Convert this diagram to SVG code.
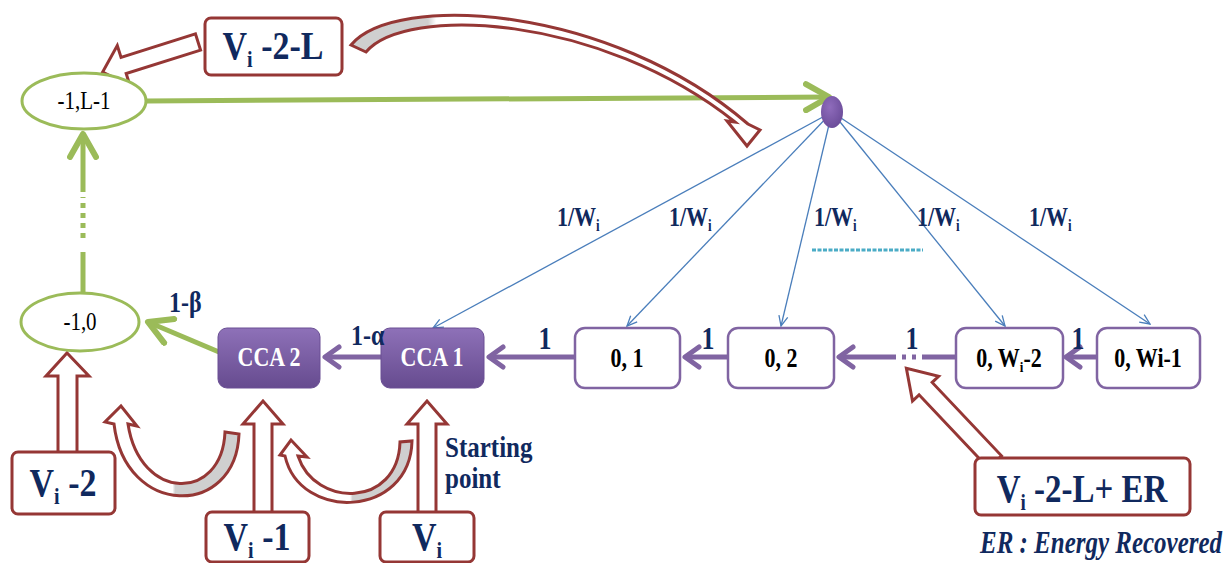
<svg xmlns="http://www.w3.org/2000/svg" width="1232" height="563" viewBox="0 0 1232 563">
<defs>
<style>
.t{font-family:"Liberation Serif","Times New Roman",serif;font-weight:bold}
.r{font-family:"Liberation Serif","Times New Roman",serif}
.nv{fill:#10295e}
.bk{fill:#000}
.wt{fill:#fff}
.rb{fill:#fff;stroke:#953735;stroke-width:3}
.ba{stroke:#953735;stroke-width:3;stroke-linejoin:miter}
.pb{fill:#fff;stroke:#8064a2;stroke-width:2.5}
.cca{fill:url(#ccaG);stroke:#6a4f94;stroke-width:1}
.el{fill:#fff;stroke:#9bbb59;stroke-width:3}
.bl{stroke:#4a7ebb;stroke-width:1.3;fill:none;marker-end:url(#bA)}
.pl{stroke:#8064a2;stroke-width:5;fill:none}
.gl{stroke:#9bbb59;stroke-width:5;fill:none}
</style>
<linearGradient id="ccaG" x1="0" y1="0" x2="0" y2="1"><stop offset="0" stop-color="#8e71b8"/><stop offset="1" stop-color="#664b8f"/></linearGradient>
<radialGradient id="dotG" cx="0.4" cy="0.35" r="0.7"><stop offset="0" stop-color="#8f6cbc"/><stop offset="1" stop-color="#6a4b98"/></radialGradient>
<linearGradient id="gTop" gradientUnits="userSpaceOnUse" x1="350" y1="0" x2="760" y2="0"><stop offset="0" stop-color="#cfcfcf"/><stop offset="0.19" stop-color="#cfcfcf"/><stop offset="0.21" stop-color="#fff"/></linearGradient>
<linearGradient id="gU1" gradientUnits="userSpaceOnUse" x1="105" y1="0" x2="240" y2="0"><stop offset="0" stop-color="#fff"/><stop offset="0.5" stop-color="#fff"/><stop offset="0.52" stop-color="#cfcfcf"/><stop offset="1" stop-color="#cfcfcf"/></linearGradient>
<linearGradient id="gU2" gradientUnits="userSpaceOnUse" x1="280" y1="0" x2="412" y2="0"><stop offset="0" stop-color="#fff"/><stop offset="0.53" stop-color="#fff"/><stop offset="0.55" stop-color="#cfcfcf"/><stop offset="1" stop-color="#cfcfcf"/></linearGradient>
<marker id="bA" viewBox="0 0 12 12" refX="11" refY="6" markerWidth="12" markerHeight="12" markerUnits="userSpaceOnUse" orient="auto"><path d="M1,1.5 L11,6 L1,10.5" fill="none" stroke="#4a7ebb" stroke-width="1.3"/></marker>
<marker id="pA" viewBox="0 0 20 26" refX="17" refY="13" markerWidth="20" markerHeight="26" markerUnits="userSpaceOnUse" orient="auto"><path d="M3,3 L17,13 L3,23" fill="none" stroke="#8064a2" stroke-width="5" stroke-linecap="round" stroke-linejoin="round"/></marker>
<marker id="gA" viewBox="0 0 30 32" refX="26" refY="16" markerWidth="30" markerHeight="32" markerUnits="userSpaceOnUse" orient="auto"><path d="M3,3 L26,16 L3,29" fill="none" stroke="#9bbb59" stroke-width="6" stroke-linecap="round" stroke-linejoin="round"/></marker>
</defs>
<rect width="1232" height="563" fill="#fff"/>

<g id="connectors">
  <line class="bl" x1="832" y1="112" x2="433" y2="328"/>
  <line class="bl" x1="832" y1="112" x2="627" y2="326"/>
  <line class="bl" x1="832" y1="112" x2="781" y2="326"/>
  <line class="bl" x1="832" y1="112" x2="1005" y2="326"/>
  <line class="bl" x1="832" y1="112" x2="1150" y2="324"/>
  <line x1="812" y1="250" x2="923" y2="250" stroke="#4bacc6" stroke-width="3" stroke-dasharray="4,1.5"/>
  <line class="gl" x1="147" y1="101" x2="829" y2="97" marker-end="url(#gA)"/>
  <line class="gl" x1="83" y1="293" x2="83" y2="252"/>
  <line class="gl" x1="83" y1="238" x2="83" y2="197" stroke-dasharray="5,5"/>
  <line class="gl" x1="83" y1="192" x2="83" y2="134" marker-end="url(#gA)"/>
  <line class="gl" x1="219" y1="352" x2="148" y2="322" marker-end="url(#gA)"/>
  <line class="pl" x1="381" y1="357" x2="325" y2="357" marker-end="url(#pA)"/>
  <line class="pl" x1="575" y1="357" x2="489" y2="357" marker-end="url(#pA)"/>
  <line class="pl" x1="728" y1="357" x2="685" y2="357" marker-end="url(#pA)"/>
  <line class="pl" x1="955" y1="357" x2="922" y2="357"/>
  <line class="pl" x1="916" y1="357" x2="912" y2="357"/>
  <line class="pl" x1="906" y1="357" x2="902" y2="357"/>
  <line class="pl" x1="896" y1="357" x2="839" y2="357" marker-end="url(#pA)"/>
  <line class="pl" x1="1097" y1="357" x2="1066" y2="357" marker-end="url(#pA)"/>
  <polygon class="ba" fill="#fff" transform="translate(198,42) rotate(162.5)" points="0,-8.5 78,-8.5 78,-21 100,0 78,21 78,8.5 0,8.5"/>
  <path class="ba" fill="url(#gTop)" d="M351,45 C395,-8 610,5 748,124 L760,130 L747,146 L727,121 L735,122 C600,14 405,5 366,52 Z"/>
  <polygon class="ba" fill="#fff" points="58,454 58,376 46,376 67,353 89,376 77,376 77,454"/>
  <polygon class="ba" fill="#fff" points="254,514 254,424 243,424 263,401 283,424 272,424 272,514"/>
  <polygon class="ba" fill="#fff" points="418,514 418,424 407,424 427,401 447,424 436,424 436,514"/>
  <path class="ba" fill="url(#gU1)" d="M239,434 C236,518 125,518 114,424 L105,422 L121,406 L137,426 L128,424 C140,502 222,502 225,432 Z"/>
  <path class="ba" fill="url(#gU2)" d="M412,441 C410,518 300,522 285,456 L280,455 L291,440 L307,457 L298,456 C315,508 398,508 400,442 Z"/>
  <polygon class="ba" fill="#fff" transform="translate(995,462) rotate(-133.4)" points="0,-9 101,-9 101,-18 129,0 101,18 101,9 0,9"/>
</g>

<g id="n-dot"><ellipse cx="832" cy="112" rx="11" ry="16" fill="url(#dotG)"/></g>

<g id="n-L1">
  <ellipse class="el" cx="84" cy="101" rx="62" ry="28"/>
  <text class="r bk" font-size="21" text-anchor="middle" transform="translate(84,109) scale(1,1.15)">-1,L-1</text>
</g>
<g id="n-10">
  <ellipse class="el" cx="80" cy="322" rx="59" ry="29"/>
  <text class="r bk" font-size="21" text-anchor="middle" transform="translate(80,330) scale(1,1.15)">-1,0</text>
</g>

<g id="n-cca2">
  <rect class="cca" x="218" y="328" width="102" height="60" rx="9"/>
  <text class="t wt" font-size="22" text-anchor="middle" transform="translate(269,366) scale(1,1.2)">CCA 2</text>
</g>
<g id="n-cca1">
  <rect class="cca" x="381" y="328" width="103" height="60" rx="9"/>
  <text class="t wt" font-size="22" text-anchor="middle" transform="translate(432,366) scale(1,1.2)">CCA 1</text>
</g>
<g id="n-01">
  <rect class="pb" x="575" y="328" width="105" height="60" rx="10"/>
  <text class="t bk" font-size="22" text-anchor="middle" transform="translate(627,367) scale(1,1.2)">0, 1</text>
</g>
<g id="n-02">
  <rect class="pb" x="728" y="328" width="106" height="60" rx="10"/>
  <text class="t bk" font-size="22" text-anchor="middle" transform="translate(781,367) scale(1,1.2)">0, 2</text>
</g>
<g id="n-0w2">
  <rect class="pb" x="956" y="328" width="107" height="60" rx="10"/>
  <text class="t bk" font-size="22" text-anchor="middle" transform="translate(1009,367) scale(1,1.2)">0, W<tspan font-size="13" dy="4">i</tspan><tspan dy="-4">-2</tspan></text>
</g>
<g id="n-0w1">
  <rect class="pb" x="1097" y="328" width="103" height="60" rx="10"/>
  <text class="t bk" font-size="22" text-anchor="middle" transform="translate(1148,367) scale(1,1.2)">0, Wi-1</text>
</g>

<g id="n-v2l">
  <rect class="rb" x="205" y="18" width="137" height="57" rx="6"/>
  <text class="t nv" font-size="34" text-anchor="middle" transform="translate(273,59) scale(1,1.2)">V<tspan font-size="20" dy="7">i</tspan><tspan dy="-7"> -2-L</tspan></text>
</g>
<g id="n-v2">
  <rect class="rb" x="12" y="452" width="103" height="62" rx="6"/>
  <text class="t nv" font-size="34" text-anchor="middle" transform="translate(63,496) scale(1,1.2)">V<tspan font-size="20" dy="7">i</tspan><tspan dy="-7"> -2</tspan></text>
</g>
<g id="n-v1">
  <rect class="rb" x="206" y="512" width="103" height="50" rx="6"/>
  <text class="t nv" font-size="34" text-anchor="middle" transform="translate(257,550) scale(1,1.2)">V<tspan font-size="20" dy="7">i</tspan><tspan dy="-7"> -1</tspan></text>
</g>
<g id="n-v">
  <rect class="rb" x="380" y="512" width="94" height="50" rx="6"/>
  <text class="t nv" font-size="34" text-anchor="middle" transform="translate(427,550) scale(1,1.2)">V<tspan font-size="20" dy="7">i</tspan></text>
</g>
<g id="n-ver">
  <rect class="rb" x="975" y="458" width="215" height="57" rx="6"/>
  <text class="t nv" font-size="33" text-anchor="middle" transform="translate(1082,502) scale(1,1.2)">V<tspan font-size="19" dy="7">i</tspan><tspan dy="-7"> -2-L+ ER</tspan></text>
</g>

<g id="labels">
  <text class="t nv" font-size="22" transform="translate(557,226) scale(1,1.25)">1/W<tspan font-size="13" dy="4">i</tspan></text>
  <text class="t nv" font-size="22" transform="translate(669,226) scale(1,1.25)">1/W<tspan font-size="13" dy="4">i</tspan></text>
  <text class="t nv" font-size="22" transform="translate(814,226) scale(1,1.25)">1/W<tspan font-size="13" dy="4">i</tspan></text>
  <text class="t nv" font-size="22" transform="translate(917,226) scale(1,1.25)">1/W<tspan font-size="13" dy="4">i</tspan></text>
  <text class="t nv" font-size="22" transform="translate(1029,226) scale(1,1.25)">1/W<tspan font-size="13" dy="4">i</tspan></text>
  <text class="t nv" font-size="24" transform="translate(169,312) scale(1,1.2)">1-β</text>
  <text class="t nv" font-size="24" transform="translate(351,345) scale(1,1.2)">1-α</text>
  <text class="t nv" font-size="26" text-anchor="middle" transform="translate(545,349) scale(1,1.2)">1</text>
  <text class="t nv" font-size="26" text-anchor="middle" transform="translate(708,349) scale(1,1.2)">1</text>
  <text class="t nv" font-size="26" text-anchor="middle" transform="translate(912,349) scale(1,1.2)">1</text>
  <text class="t nv" font-size="26" text-anchor="middle" transform="translate(1078,349) scale(1,1.2)">1</text>
  <text class="t nv" font-size="25" transform="translate(445,457) scale(1,1.2)">Starting</text>
  <text class="t nv" font-size="25" transform="translate(445,488) scale(1,1.2)">point</text>
  <text class="t nv" font-size="25" font-style="italic" transform="translate(980,553) scale(1,1.25)" textLength="242" lengthAdjust="spacingAndGlyphs">ER : Energy Recovered</text>
</g>
</svg>
